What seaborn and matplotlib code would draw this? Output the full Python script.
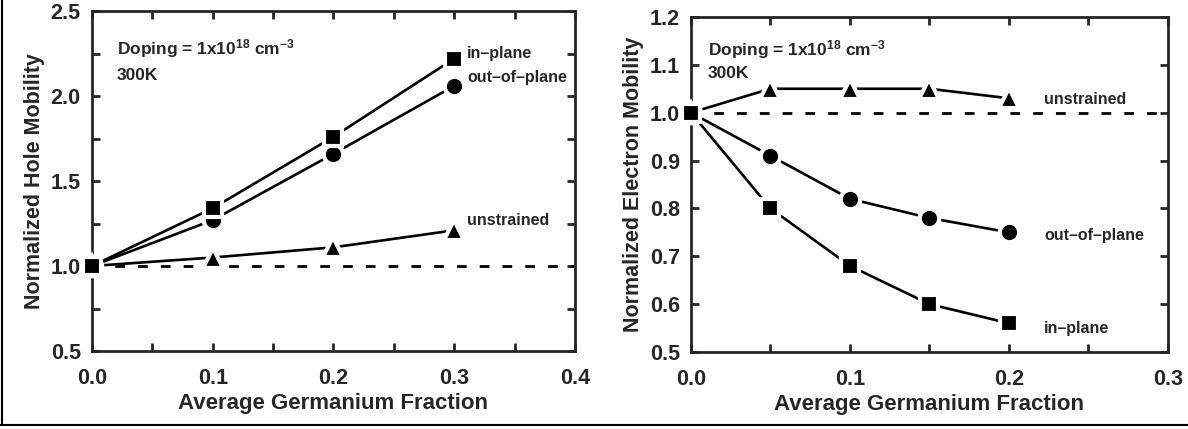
import matplotlib
matplotlib.use("Agg")
import matplotlib.pyplot as plt
import seaborn as sns
import pandas as pd
from matplotlib.ticker import MultipleLocator
from matplotlib.lines import Line2D

# hole mobility (left panel)
ge_hole = [0.0, 0.1, 0.2, 0.3]
hole_inplane = [1.0, 1.34, 1.76, 2.22]
hole_outplane = [1.0, 1.27, 1.66, 2.06]
hole_unstrained = [1.0, 1.05, 1.11, 1.21]

# electron mobility (right panel)
ge_elec = [0.0, 0.05, 0.1, 0.15, 0.2]
elec_unstrained = [1.0, 1.05, 1.05, 1.05, 1.03]
elec_outplane = [1.0, 0.91, 0.82, 0.78, 0.75]
elec_inplane = [1.0, 0.80, 0.68, 0.60, 0.56]

sns.set_style("ticks")
plt.rcParams['font.family'] = ['Liberation Sans', 'DejaVu Sans']
plt.rcParams['font.weight'] = 'bold'
plt.rcParams['mathtext.fontset'] = 'custom'
plt.rcParams['mathtext.rm'] = 'Liberation Sans:bold'
plt.rcParams['mathtext.default'] = 'rm'

fig = plt.figure(figsize=(11.88, 4.29), dpi=100)
ax1 = fig.add_axes([0.0774, 0.1818, 0.4066, 0.7925])
ax2 = fig.add_axes([0.5816, 0.1795, 0.4015, 0.781])

def draw(ax, x, y, marker, ms):
    df = pd.DataFrame({'x': x, 'y': y})
    sns.lineplot(data=df, x='x', y='y', ax=ax, color='black', lw=1.9,
                 marker=marker, markersize=ms, markeredgecolor='white',
                 markeredgewidth=3, clip_on=False, zorder=3)

def style(ax, xmax, xmin, ymin, ymax, ymin_step, ylabel):
    ax.set_xlim(0, xmax)
    ax.set_ylim(ymin, ymax)
    ax.xaxis.set_minor_locator(MultipleLocator(xmin))
    ax.yaxis.set_minor_locator(MultipleLocator(ymin_step))
    ax.tick_params(which='both', direction='in', top=True, right=True,
                   width=2, length=6, labelsize=15.5)
    ax.tick_params(axis='x', which='both', pad=12)
    ax.tick_params(axis='y', which='both', pad=8)
    for s in ax.spines.values():
        s.set_linewidth(2)
    ax.set_xlabel('Average Germanium Fraction', fontsize=16, fontweight='bold',
                  labelpad=3)
    ax.set_ylabel(ylabel, fontsize=15.5, fontweight='bold', labelpad=4)

# left panel
ax1.axhline(1.0, color='black', lw=2, ls=(0, (3.5, 4.7)), zorder=1)
draw(ax1, ge_hole, hole_unstrained, '^', 15)
draw(ax1, ge_hole, hole_outplane, 'o', 14)
draw(ax1, ge_hole, hole_inplane, 's', 13)
style(ax1, 0.4, 0.05, 0.5, 2.5, 0.25, 'Normalized Hole Mobility')
ax1.set_xticks([0.0, 0.1, 0.2, 0.3, 0.4])
ax1.set_xticklabels(['0.0', '0.1', '0.2', '0.3', '0.4'], fontweight='bold')
ax1.set_yticks([0.5, 1.0, 1.5, 2.0, 2.5])
ax1.set_yticklabels(['0.5', '1.0', '1.5', '2.0', '2.5'], fontweight='bold')
ax1.text(0.0207, 2.247, r'Doping = 1x10$^{18}$ cm$^{-3}$',
         fontsize=12.5, fontweight='bold')
ax1.text(0.0207, 2.094, '300K', fontsize=12.5, fontweight='bold')
ax1.text(0.3106, 2.25, 'in\u2013plane', fontsize=11.5, fontweight='bold', va='center')
ax1.text(0.3106, 2.11, 'out\u2013of\u2013plane', fontsize=11.5, fontweight='bold', va='center')
ax1.text(0.3106, 1.27, 'unstrained', fontsize=11.5, fontweight='bold', va='center')

# right panel
ax2.axhline(1.0, color='black', lw=2, ls=(0, (3.5, 4.7)), zorder=1)
draw(ax2, ge_elec, elec_unstrained, '^', 15)
draw(ax2, ge_elec, elec_outplane, 'o', 14)
draw(ax2, ge_elec, elec_inplane, 's', 13)
style(ax2, 0.3, 0.05, 0.5, 1.2, 0.1, 'Normalized Electron Mobility')
ax2.set_xticks([0.0, 0.1, 0.2, 0.3])
ax2.set_xticklabels(['0.0', '0.1', '0.2', '0.3'], fontweight='bold')
ax2.set_yticks([0.5, 0.6, 0.7, 0.8, 0.9, 1.0, 1.1, 1.2])
ax2.set_yticklabels(['0.5', '0.6', '0.7', '0.8', '0.9', '1.0', '1.1', '1.2'],
                    fontweight='bold')
ax2.text(0.0107, 1.1206, r'Doping = 1x10$^{18}$ cm$^{-3}$',
         fontsize=12.5, fontweight='bold')
ax2.text(0.0107, 1.0725, '300K', fontsize=12.5, fontweight='bold')
ax2.text(0.222, 1.027, 'unstrained', fontsize=11.5, fontweight='bold', va='center')
ax2.text(0.222, 0.743, 'out\u2013of\u2013plane', fontsize=11.5, fontweight='bold', va='center')
ax2.text(0.222, 0.55, 'in\u2013plane', fontsize=11.5, fontweight='bold', va='center')

# outer frame (left and bottom edges, as in the scan)
fig.add_artist(Line2D([0.002, 0.002], [0.01, 1.0], transform=fig.transFigure,
                      color='black', lw=1.5))
fig.add_artist(Line2D([0.0, 1.0], [0.01, 0.01], transform=fig.transFigure,
                      color='black', lw=1.5))

fig.savefig('out.png', dpi=100)
